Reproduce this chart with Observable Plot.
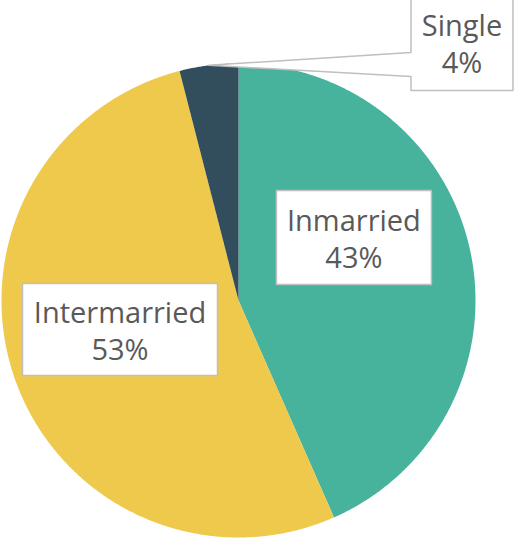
<!DOCTYPE html>
<html><head><meta charset="utf-8">
<script src="https://cdn.jsdelivr.net/npm/d3@7"></script>
<script src="https://cdn.jsdelivr.net/npm/@observablehq/plot@0.6"></script>
<style>body{margin:0;background:#fff;overflow:hidden} #chart{width:514px;height:539px}</style>
</head><body><div id="chart"></div>
<script>
// ---- data ----
const categories = ["Inmarried", "Intermarried", "Single"];
const shares = [43.4, 52.6, 4.0];
const colors = ["#47B39D", "#EFC94C", "#324D5C"];

// ---- layout (not data) ----
const W = 514, H = 539, cx = 238, cy = 300, R = 237;
// label box centres in pie units (radius = 1) and box sizes in px
const labelLayout = {
  Inmarried:   {x: 0.487, y: 0.266, w: 155, h: 94},
  Intermarried:{x: -0.500, y: -0.122, w: 195, h: 92},
  Single:      {x: 0.943, y: 1.089, w: 102, h: 96}
};

const pie = d3.pie().sort(null).value(d => d.value)(
  categories.map((c, i) => ({category: c, value: shares[i]}))
);

// slice polygons computed from pie angles
const slicePts = [];
for (const a of pie) {
  const c = a.data.category;
  slicePts.push({category: c, x: 0, y: 0});
  const n = Math.max(8, Math.ceil((a.endAngle - a.startAngle) / 0.005));
  for (let k = 0; k <= n; k++) {
    const t = a.startAngle + (a.endAngle - a.startAngle) * k / n;
    slicePts.push({category: c, x: Math.sin(t), y: Math.cos(t)});
  }
}

// label boxes (+ callout for Single)
const u = 1 / R;
const boxPts = [];
const labels = [];
for (const a of pie) {
  const c = a.data.category;
  const L = labelLayout[c];
  const hw = L.w / 2 * u, hh = L.h / 2 * u;
  const x0 = L.x - hw, x1 = L.x + hw, y0 = L.y - hh, y1 = L.y + hh;
  const poly = [[x0, y1], [x1, y1], [x1, y0], [x0, y0]];
  if (c === "Single") {
    const mid = (a.startAngle + a.endAngle) / 2;
    const tip = [Math.sin(mid), Math.cos(mid)];
    const yLow = L.y - 34 * u;  // attachment points on the box's left side
    const yHigh = L.y - 10 * u;
    poly.push([x0, yLow], tip, [x0, yHigh]);
  }
  for (const p of poly) boxPts.push({category: c, x: p[0], y: p[1]});
  labels.push({category: c, x: L.x, y: L.y, text: `${c}\n${Math.round(a.data.value)}%`});
}

const chart = Plot.plot({
  width: W, height: H,
  margin: 0,
  x: {domain: [-1, 1], range: [cx - R, cx + R], axis: null},
  y: {domain: [-1, 1], range: [cy + R, cy - R], axis: null},
  color: {domain: categories, range: colors},
  style: {fontFamily: "'Open Sans', sans-serif", background: "white", overflow: "visible"},
  marks: [
    Plot.line(slicePts, {x: "x", y: "y", z: "category", fill: "category", stroke: "none", curve: "linear-closed"}),
    Plot.line(boxPts, {x: "x", y: "y", z: "category", fill: "white", stroke: "#BFBFBF", strokeWidth: 1.5, curve: "linear-closed"}),
    Plot.text(labels, {x: "x", y: "y", text: "text", fontSize: 29, lineHeight: 1.3, fill: "#595959", textAnchor: "middle", lineAnchor: "middle"})
  ]
});
document.getElementById("chart").appendChild(chart);
</script>
</body></html>
